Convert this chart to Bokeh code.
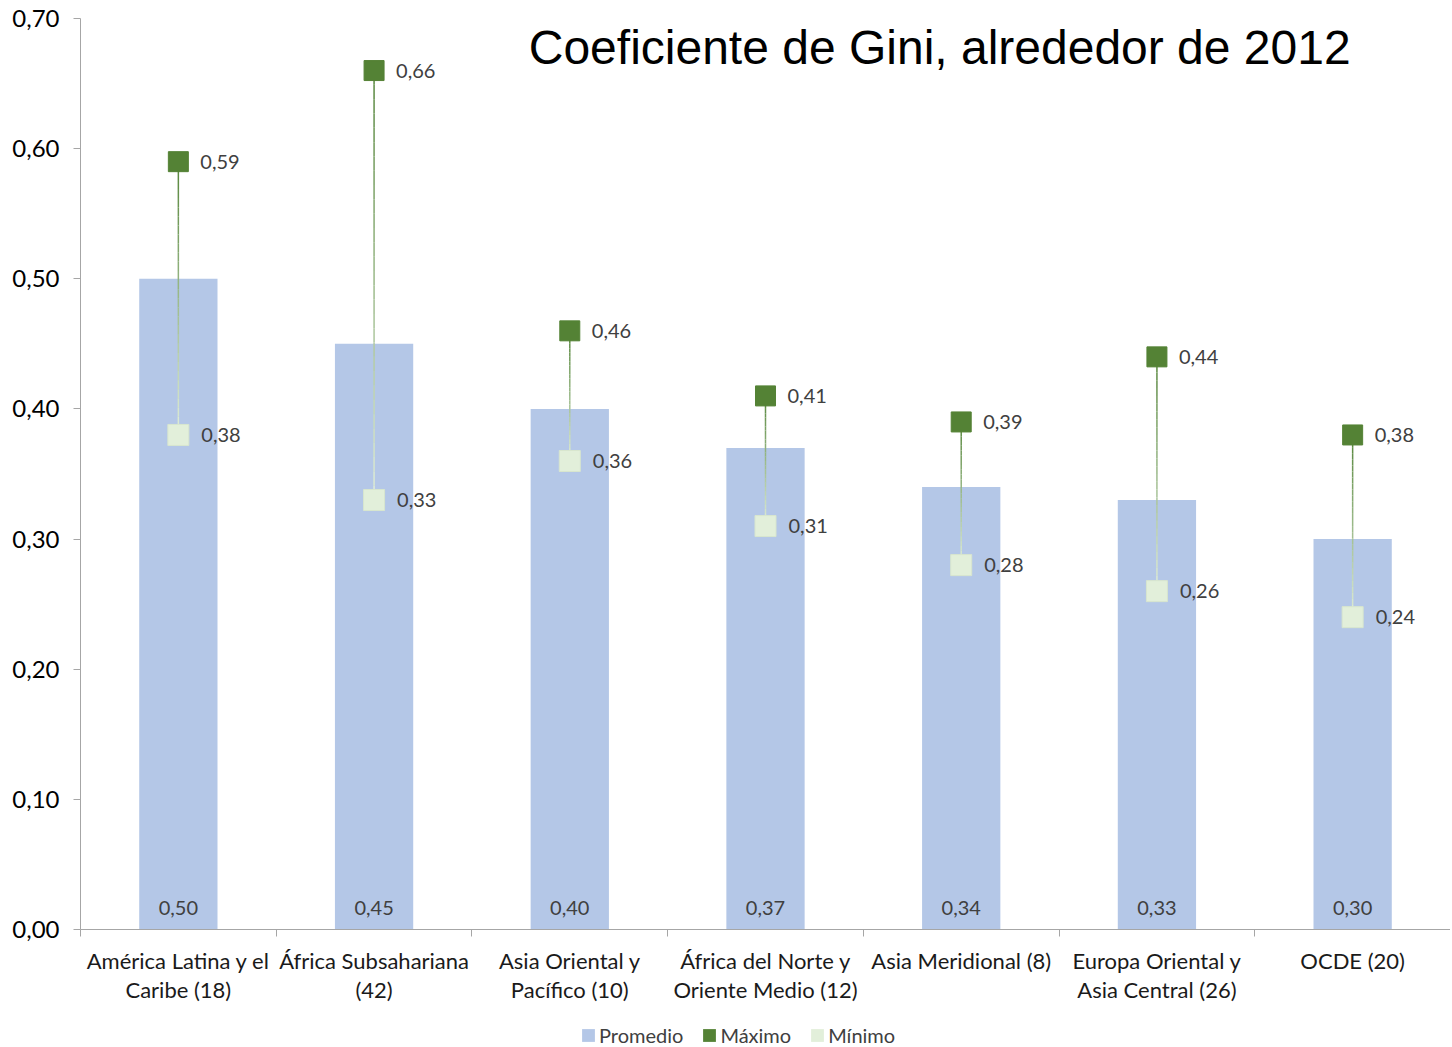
from bokeh.plotting import figure
from bokeh.layouts import column
from bokeh.models import (Range1d, FixedTicker, CustomJSTickFormatter, Label, Legend, LegendItem)
from bokeh.core.properties import value
from bokeh.embed import file_html
from bokeh.resources import INLINE

categories = ["América Latina y el\nCaribe (18)", "África Subsahariana\n(42)",
              "Asia Oriental y\nPacífico (10)", "África del Norte y\nOriente Medio (12)",
              "Asia Meridional (8)", "Europa Oriental y\nAsia Central (26)", "OCDE (20)"]
promedio = [0.50, 0.45, 0.40, 0.37, 0.34, 0.33, 0.30]
maximo = [0.59, 0.66, 0.46, 0.41, 0.39, 0.44, 0.38]
minimo = [0.38, 0.33, 0.36, 0.31, 0.28, 0.26, 0.24]
y_ticks = [0.0, 0.1, 0.2, 0.3, 0.4, 0.5, 0.6, 0.7]
title_text = "Coeficiente de Gini, alrededor de 2012"
legend_labels = ["Promedio", "Máximo", "Mínimo"]

C_BAR = "#B4C7E7"
C_MAX = "#548235"
C_MIN = "#E2EFDA"
C_AXIS = "#A6A6A6"
FONT = "Lato"


def fmt(v):
    return f"{v:.2f}".replace(".", ",")


n = len(categories)
xs = [i + 0.5 for i in range(n)]
x_range = Range1d(0, n)

# ---------------- main chart ----------------
p = figure(frame_width=1370, frame_height=911,
           x_range=x_range, y_range=Range1d(0, 0.7),
           output_backend="svg", toolbar_location=None,
           min_border_left=80, min_border_right=0, min_border_top=18, min_border_bottom=16)
p.outline_line_color = None
p.xgrid.visible = False
p.ygrid.visible = False
p.background_fill_color = "white"
p.border_fill_color = "white"

# x axis: only the line and the category boundary ticks (labels drawn below)
xa = p.xaxis[0]
xa.ticker = FixedTicker(ticks=[], minor_ticks=list(range(n + 1)))
xa.major_tick_line_color = None
xa.major_tick_out = 0
xa.major_tick_in = 0
xa.minor_tick_out = 7
xa.minor_tick_in = 0
xa.minor_tick_line_color = C_AXIS
xa.axis_line_color = C_AXIS
xa.major_label_standoff = 0
xa.major_label_text_font_size = "1px"

ya = p.yaxis[0]
ya.ticker = FixedTicker(ticks=y_ticks)
ya.formatter = CustomJSTickFormatter(code="return tick.toFixed(2).replace('.', ',');")
ya.minor_tick_line_color = None
ya.major_tick_out = 7
ya.major_tick_in = 0
ya.major_tick_line_color = C_AXIS
ya.axis_line_color = C_AXIS
ya.major_label_text_font = FONT
ya.major_label_text_font_size = "24px"
ya.major_label_text_color = "#000000"
ya.major_label_standoff = 14

# bars
p.vbar(x=xs, top=promedio, width=0.4, fill_color=C_BAR, line_color=None)

# gradient hi-low lines (dark at max, light at min)
def hex2rgb(h):
    h = h.lstrip("#")
    return tuple(int(h[i:i + 2], 16) for i in (0, 2, 4))

c_top = hex2rgb("#55853A")
c_bot = hex2rgb("#E2EFDA")
steps = 30
x0s, y0s, x1s, y1s, cols = [], [], [], [], []
for x, hi, lo in zip(xs, maximo, minimo):
    for k in range(steps):
        t0 = k / steps
        t1 = (k + 1) / steps
        tm = (k + 0.5) / steps
        x0s.append(x); x1s.append(x)
        y0s.append(hi + (lo - hi) * t0)
        y1s.append(hi + (lo - hi) * t1)
        rgb = tuple(int(round(a + (b - a) * tm)) for a, b in zip(c_top, c_bot))
        cols.append("#%02x%02x%02x" % rgb)
p.segment(x0=x0s, y0=y0s, x1=x1s, y1=y1s, line_color=cols, line_width=1.5)

# markers
p.scatter(x=xs, y=maximo, marker="square", size=20, fill_color=C_MAX, line_color=C_MAX)
p.scatter(x=xs, y=minimo, marker="square", size=21, fill_color=C_MIN, line_color="#D8E6CE")

# data labels
lab_kw = dict(text_font=value(FONT), text_font_size="20px", text_color="#404040",
              text_baseline="middle")
p.text(x=xs, y=maximo, text=[fmt(v) for v in maximo], x_offset=22, text_align="left", **lab_kw)
p.text(x=xs, y=minimo, text=[fmt(v) for v in minimo], x_offset=23, text_align="left", **lab_kw)
p.text(x=xs, y=[0] * n, text=[fmt(v) for v in promedio], y_offset=-22, text_align="center", **lab_kw)

# title
p.add_layout(Label(x=4.39, y=0.678, text=title_text, text_align="center", text_baseline="middle",
                   text_font="Liberation Sans", text_font_size="48px", text_color="#000000"))

# ---------------- category labels + legend strip ----------------
STRIP_H = 102
q = figure(frame_width=1370, frame_height=STRIP_H,
           x_range=x_range, y_range=Range1d(STRIP_H, 0),
           output_backend="svg", toolbar_location=None,
           x_axis_type=None, y_axis_type=None,
           min_border_left=80, min_border_right=0, min_border_top=0, min_border_bottom=0)
q.outline_line_color = None
q.xgrid.visible = False
q.ygrid.visible = False
q.background_fill_color = "white"
q.border_fill_color = "white"

# category labels (two lines each)
line1 = [c.split("\n")[0] for c in categories]
line2 = [c.split("\n")[1] if "\n" in c else "" for c in categories]
cat_kw = dict(text_font=value(FONT), text_font_size="22px", text_color="#1a1a1a",
              text_align="center", text_baseline="middle")
q.text(x=xs, y=[15] * n, text=line1, **cat_kw)
q.text(x=xs, y=[44] * n, text=line2, **cat_kw)

# legend (zero-height stand-in renderers, only used for the legend swatches)
r1 = q.vbar(x=[xs[0]], top=[0], bottom=[0], width=0.4, fill_color=C_BAR, line_color=None)
r2 = q.vbar(x=[xs[0]], top=[0], bottom=[0], width=0.4, fill_color=C_MAX, line_color=None)
r3 = q.vbar(x=[xs[0]], top=[0], bottom=[0], width=0.4, fill_color=C_MIN, line_color=None)
legend = Legend(items=[LegendItem(label=legend_labels[0], renderers=[r1]),
                       LegendItem(label=legend_labels[1], renderers=[r2]),
                       LegendItem(label=legend_labels[2], renderers=[r3])],
                orientation="horizontal", location=(500, 0),
                glyph_width=16, glyph_height=16, label_standoff=3, spacing=18,
                label_height=18, label_text_baseline="middle",
                label_text_font=FONT, label_text_font_size="20px", label_text_color="#404040",
                border_line_color=None, background_fill_alpha=0, padding=0, margin=0)
q.add_layout(legend)

layout = column(p, q, spacing=0)
open("out.html", "w").write(file_html(layout, INLINE))
